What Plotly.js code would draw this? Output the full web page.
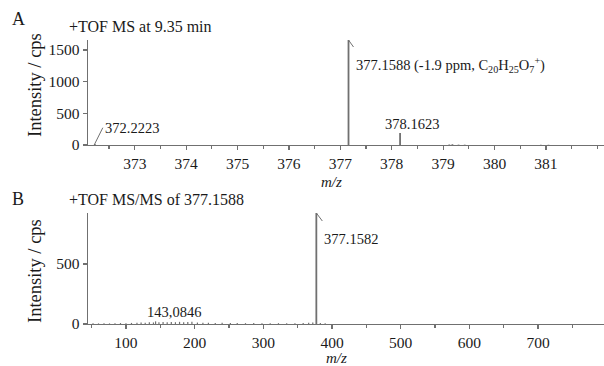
<!DOCTYPE html>
<html>
<head>
<meta charset="utf-8">
<script src="https://cdn.plot.ly/plotly-3.0.1.min.js"></script>
<style>html,body{margin:0;padding:0;background:#fff;}#chart{width:604px;height:366px;}</style>
</head>
<body>
<div id="chart"></div>
<script>
// Panel A: TOF MS at 9.35 min
const msMz        = [372.2223, 377.1588, 378.1623, 379.12, 379.18, 379.30, 379.42, 380.90, 381.05];
const msIntensity = [20,       1658,     190,      8,      12,     6,      5,      4,      4];
const msLabels    = ["372.2223", "377.1588 (-1.9 ppm, C<sub>20</sub>H<sub>25</sub>O<sub>7</sub><sup>+</sup>)", "378.1623"];

// Panel B: TOF MS/MS of 377.1588
const msmsMz        = [377.1582];
const msmsIntensity = [925];
const msmsNoiseMz   = [52, 60, 68, 76, 84, 92, 100, 108, 116, 122, 128, 134, 140, 143.0846, 148, 154, 160, 166, 172, 178, 184, 190, 196, 204, 212, 220, 230, 240, 252, 262, 274, 286, 298, 310, 322, 334, 346, 358, 366, 372, 383, 390];
const msmsNoiseInt  = [6,  5,  7,  5,  6,  8,  7,   9,   10,  12,  11,  14,  13,  22,       15,  16,  14,  17,  15,  18,  14,  16,  19,  12,  10,  11,  9,   10,  8,   9,   7,   8,   7,   6,   7,   6,   6,   8,   10,  12,  9,   6];
const msmsLabels    = ["377.1582", "143,0846"];

const xTicksA = [373, 374, 375, 376, 377, 378, 379, 380, 381];
const yTicksA = [0, 500, 1000, 1500];
const xTicksB = [100, 200, 300, 400, 500, 600, 700];
const yTicksB = [0, 500];

function sticks(xs, ys) {
  const X = [], Y = [];
  xs.forEach((x, i) => { X.push(x, x, null); Y.push(0, ys[i], null); });
  return {X, Y};
}

const lineCol = '#707070';
const txtCol = '#1a1a1a';
const serif = 'Liberation Serif, Times New Roman, serif';

const sA = sticks(msMz, msIntensity);
const sBn = sticks(msmsNoiseMz, msmsNoiseInt);
const sB = sticks(msmsMz, msmsIntensity);

const traces = [
  {x: sA.X, y: sA.Y, type: 'scatter', mode: 'lines', line: {color: lineCol, width: 1.8}, xaxis: 'x', yaxis: 'y', hoverinfo: 'skip'},
  {x: sBn.X, y: sBn.Y, type: 'scatter', mode: 'lines', line: {color: lineCol, width: 1.2}, xaxis: 'x2', yaxis: 'y2', hoverinfo: 'skip'},
  {x: sB.X, y: sB.Y, type: 'scatter', mode: 'lines', line: {color: lineCol, width: 1.8}, xaxis: 'x2', yaxis: 'y2', hoverinfo: 'skip'}
];

const H = 366;
const axCommon = {
  showgrid: false, zeroline: false, showline: true, linecolor: lineCol, linewidth: 1.3,
  ticks: 'outside', ticklen: 4, tickcolor: lineCol, tickwidth: 1.2,
  tickfont: {family: serif, size: 15.5, color: txtCol}, fixedrange: true
};
const lblFont = {family: serif, size: 14.5, color: txtCol};

const layout = {
  width: 604, height: 366,
  margin: {l: 0, r: 0, t: 0, b: 0},
  paper_bgcolor: '#fff', plot_bgcolor: '#fff',
  showlegend: false,
  xaxis: Object.assign({}, axCommon, {
    domain: [88/604, 1], range: [372.09, 382.13], anchor: 'y',
    tickvals: xTicksA, ticktext: xTicksA.map(String),
    minor: {dtick: 0.5, tick0: 372.5, ticks: 'outside', ticklen: 3, tickcolor: lineCol}
  }),
  yaxis: Object.assign({}, axCommon, {
    domain: [1 - 145/H, 1 - 40/H], range: [0, 1658], anchor: 'x',
    tickvals: yTicksA, ticktext: yTicksA.map(String)
  }),
  xaxis2: Object.assign({}, axCommon, {
    domain: [88/604, 1], range: [44.7, 796], anchor: 'y2',
    tickvals: xTicksB, ticktext: xTicksB.map(String),
    minor: {dtick: 50, tick0: 50, ticks: 'outside', ticklen: 3, tickcolor: lineCol}
  }),
  yaxis2: Object.assign({}, axCommon, {
    domain: [1 - 324/H, 1 - 213/H], range: [0, 925], anchor: 'x2',
    tickvals: yTicksB, ticktext: yTicksB.map(String)
  }),
  annotations: [
    // panel letters and headers
    {text: 'A', xref: 'paper', yref: 'paper', x: 18/604, y: 1 - 19/H, xanchor: 'center', yanchor: 'middle', showarrow: false, font: {family: serif, size: 18, color: txtCol}},
    {text: '+TOF MS at 9.35 min', xref: 'paper', yref: 'paper', x: 67/604, y: 1 - 27/H, xanchor: 'left', yanchor: 'middle', showarrow: false, font: {family: serif, size: 16, color: txtCol}},
    {text: 'B', xref: 'paper', yref: 'paper', x: 18/604, y: 1 - 199/H, xanchor: 'center', yanchor: 'middle', showarrow: false, font: {family: serif, size: 18, color: txtCol}},
    {text: '+TOF MS/MS of 377.1588', xref: 'paper', yref: 'paper', x: 67/604, y: 1 - 199/H, xanchor: 'left', yanchor: 'middle', showarrow: false, font: {family: serif, size: 16, color: txtCol}},
    // axis titles
    {text: 'Intensity / cps', xref: 'paper', yref: 'paper', x: 35/604, y: 1 - 85/H, textangle: -90, xanchor: 'center', yanchor: 'middle', showarrow: false, font: {family: serif, size: 18.5, color: txtCol}},
    {text: 'Intensity / cps', xref: 'paper', yref: 'paper', x: 35/604, y: 1 - 271/H, textangle: -90, xanchor: 'center', yanchor: 'middle', showarrow: false, font: {family: serif, size: 18.5, color: txtCol}},
    {text: '<i>m/z</i>', xref: 'paper', yref: 'paper', x: 331/604, y: 1 - 182/H, xanchor: 'center', yanchor: 'middle', showarrow: false, font: {family: serif, size: 15, color: txtCol}},
    {text: '<i>m/z</i>', xref: 'paper', yref: 'paper', x: 336/604, y: 1 - 358/H, xanchor: 'center', yanchor: 'middle', showarrow: false, font: {family: serif, size: 15, color: txtCol}},
    // peak labels (panel A), leader line drawn as the annotation arrow
    {text: msLabels[0], x: msMz[0], y: msIntensity[0], xref: 'x', yref: 'y', xanchor: 'left', yanchor: 'middle', showarrow: true, arrowhead: 0, arrowwidth: 1, arrowcolor: lineCol, ax: 8, ay: -16, font: lblFont},
    {text: msLabels[1], x: msMz[1], y: msIntensity[1], xref: 'x', yref: 'y', xanchor: 'left', yanchor: 'top', height: 26, valign: 'bottom', showarrow: true, arrowhead: 0, arrowwidth: 1, arrowcolor: lineCol, ax: 5, ay: 7, font: lblFont},
    {text: msLabels[2], x: msMz[2], y: msIntensity[2], xref: 'x', yref: 'y', xanchor: 'center', yanchor: 'middle', showarrow: false, xshift: 12, yshift: 9, font: lblFont},
    // peak labels (panel B)
    {text: msmsLabels[0], x: msmsMz[0], y: msmsIntensity[0], xref: 'x2', yref: 'y2', xanchor: 'left', yanchor: 'top', height: 24, valign: 'bottom', showarrow: true, arrowhead: 0, arrowwidth: 1, arrowcolor: lineCol, ax: 6, ay: 8, font: lblFont},
    {text: msmsLabels[1], x: 143.0846, y: 22, xref: 'x2', yref: 'y2', xanchor: 'center', yanchor: 'middle', showarrow: false, xshift: 18, yshift: 9, font: lblFont}
  ]
};

Plotly.newPlot('chart', traces, layout, {staticPlot: true, displayModeBar: false});
</script>
</body>
</html>
